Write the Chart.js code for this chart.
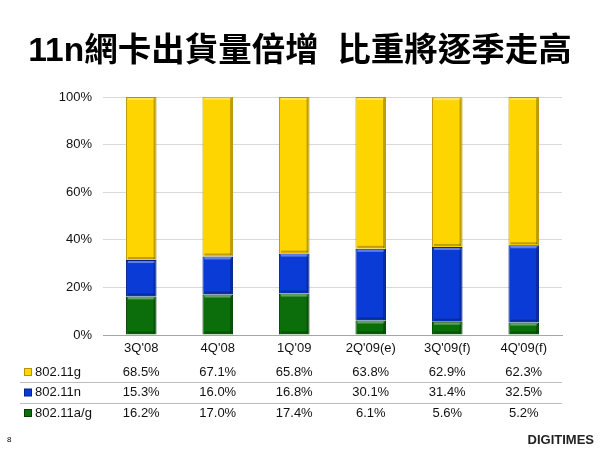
<!DOCTYPE html>
<html>
<head>
<meta charset="utf-8">
<script src="https://cdn.jsdelivr.net/npm/chart.js@4/dist/chart.umd.min.js"></script>
<style>
  html, body { margin: 0; padding: 0; background: #fff; }
  #wrap { width: 600px; height: 450px; position: relative; }
</style>
</head>
<body>
<div id="wrap"><canvas id="c" width="600" height="450"></canvas></div>
<script>
// 季度
const quarters = ["3Q'08", "4Q'08", "1Q'09", "2Q'09(e)", "3Q'09(f)", "4Q'09(f)"];
// 各規格比重 (%)
const g80211 = [68.5, 67.1, 65.8, 63.8, 62.9, 62.3];
const n80211 = [15.3, 16.0, 16.8, 30.1, 31.4, 32.5];
const ag80211 = [16.2, 17.0, 17.4, 6.1, 5.6, 5.2];
const yTicks = [0, 20, 40, 60, 80, 100];

const FONT = "'Liberation Sans', Arial, 'Noto Sans CJK TC', sans-serif";
const TITLE = "11n網卡出貨量倍增  比重將逐季走高";

// 表格列 (由上而下)
const tableRows = [
  { label: "802.11g", values: g80211, color: "#FFD500", edge: "#B89400" },
  { label: "802.11n", values: n80211, color: "#0A3BD6", edge: "#00228A" },
  { label: "802.11a/g", values: ag80211, color: "#0B6E0B", edge: "#003F00" },
];

// 立體長條效果
const bevelPlugin = {
  id: "bevel",
  afterDatasetsDraw(chart) {
    const ctx = chart.ctx;
    chart.data.datasets.forEach((ds, di) => {
      const meta = chart.getDatasetMeta(di);
      meta.data.forEach((bar) => {
        const p = bar.getProps(["x", "y", "base", "width"], true);
        const left = p.x - p.width / 2;
        const right = p.x + p.width / 2;
        const top = Math.min(p.y, p.base);
        const bottom = Math.max(p.y, p.base);
        ctx.save();
        ctx.fillStyle = "rgba(255,255,255,0.35)";
        ctx.fillRect(left + 2, top + 1, p.width - 4, 2);
        ctx.fillStyle = "rgba(0,0,0,0.25)";
        ctx.fillRect(right - 3, top + 1, 2, bottom - top - 2);
        ctx.fillRect(left + 2, bottom - 3, p.width - 4, 2);
        ctx.restore();
      });
    });
  },
};

// 標題、資料表、頁尾
const tablePlugin = {
  id: "table",
  afterDraw(chart) {
    const ctx = chart.ctx;
    const x = chart.scales.x;
    ctx.save();
    // 標題 (整頁置中)
    ctx.fillStyle = "#000";
    ctx.font = "bold 33.5px " + FONT;
    ctx.textAlign = "center";
    ctx.textBaseline = "middle";
    ctx.fillText(TITLE, 300, 52);

    ctx.font = "13px " + FONT;
    tableRows.forEach((row, r) => {
      const y = 372 + r * 20.5;
      // 圖例方塊
      ctx.fillStyle = row.edge;
      ctx.fillRect(24, y - 4, 8, 8);
      ctx.fillStyle = row.color;
      ctx.fillRect(25, y - 3, 6, 6);
      ctx.fillStyle = "#111";
      ctx.textAlign = "left";
      ctx.fillText(row.label, 35, y);
      ctx.textAlign = "center";
      row.values.forEach((v, i) => {
        ctx.fillText(v.toFixed(1) + "%", x.getPixelForValue(i), y);
      });
    });
    ctx.strokeStyle = "#BDBDBD";
    ctx.lineWidth = 1;
    [382.5, 403.5].forEach((ly) => {
      ctx.beginPath();
      ctx.moveTo(20, ly);
      ctx.lineTo(562, ly);
      ctx.stroke();
    });
    // 頁碼
    ctx.fillStyle = "#000";
    ctx.font = "8px " + FONT;
    ctx.textAlign = "left";
    ctx.fillText("8", 7, 440);
    ctx.font = "bold 13px " + FONT;
    ctx.textAlign = "right";
    ctx.fillStyle = "#222";
    ctx.fillText("DIGITIMES", 594, 440);
    ctx.restore();
  },
};

new Chart(document.getElementById("c"), {
  type: "bar",
  data: {
    labels: quarters,
    datasets: [
      { label: "802.11a/g", data: ag80211, backgroundColor: "#0B6E0B", borderColor: "#003F00" },
      { label: "802.11n", data: n80211, backgroundColor: "#0A3BD6", borderColor: "#00228A" },
      { label: "802.11g", data: g80211, backgroundColor: "#FFD500", borderColor: "#B89400" },
    ].map((d) => Object.assign(d, { borderWidth: 1, barPercentage: 0.4, categoryPercentage: 1 })),
  },
  options: {
    responsive: false,
    animation: false,
    layout: { padding: { left: 0, right: 38, top: 97, bottom: 0 } },
    plugins: {
      legend: { display: false },
      tooltip: { enabled: false },
      title: { display: false },
    },
    scales: {
      x: {
        stacked: true,
        grid: { display: false, drawTicks: false },
        border: { color: "#A6A6A6" },
        ticks: { color: "#111", font: { family: FONT, size: 13 }, padding: 6, maxRotation: 0 },
        afterFit(s) { s.height = 115; },
      },
      y: {
        stacked: true,
        min: 0,
        max: 100,
        afterBuildTicks(s) { s.ticks = yTicks.map((v) => ({ value: v })); },
        grid: { color: "#D9D9D9", drawTicks: false },
        border: { display: false },
        ticks: {
          color: "#111",
          font: { family: FONT, size: 13 },
          padding: 11,
          callback: (v) => v + "%",
        },
        afterFit(s) { s.width = 103; },
      },
    },
  },
  plugins: [bevelPlugin, tablePlugin],
});
</script>
</body>
</html>
